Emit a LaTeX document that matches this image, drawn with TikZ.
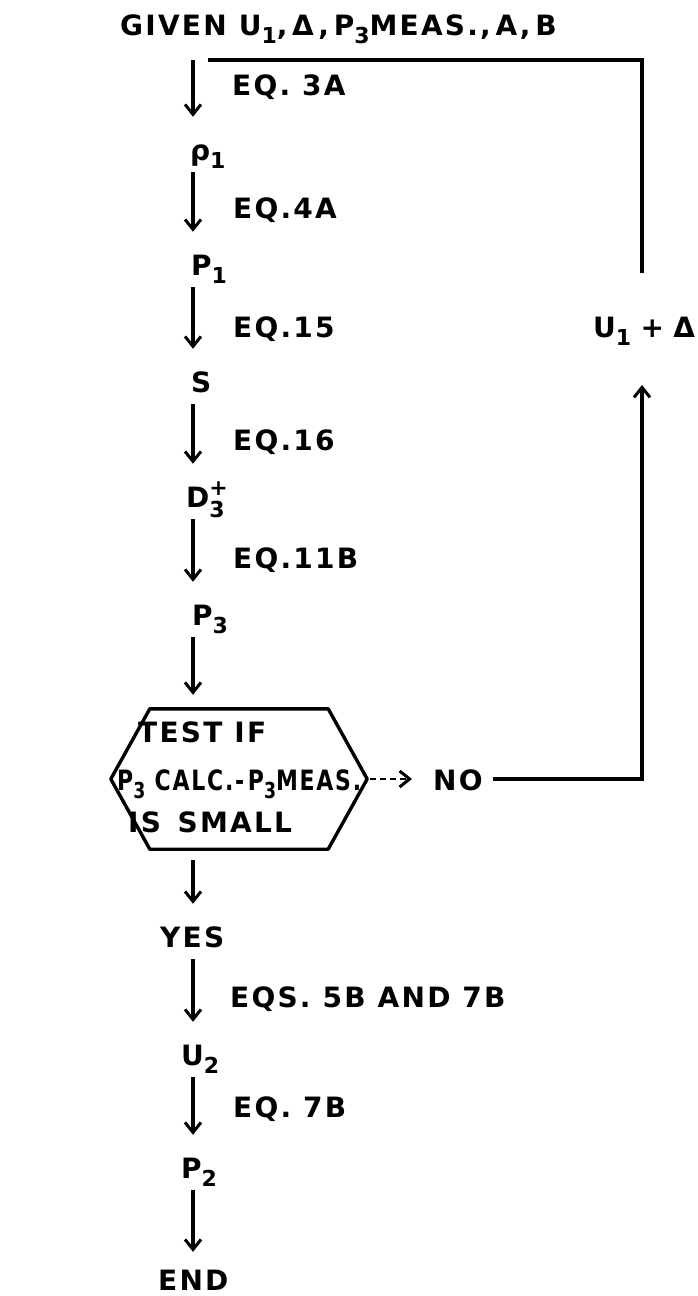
\documentclass[tikz,border=0pt]{standalone}
\usepackage{fontspec}
\setmainfont{DejaVu Sans}[UprightFont={* Bold},LetterSpace=8]
\usetikzlibrary{arrows.meta}
\newcommand\lsub[1]{\raisebox{-8pt}{\fontsize{22}{22}\selectfont #1}}
\newcommand\lsupsub[2]{\rlap{\raisebox{12pt}{\fontsize{22}{22}\selectfont #1}}\raisebox{-10pt}{\fontsize{22}{22}\selectfont #2}}
\begin{document}
\begin{tikzpicture}[x=1pt,y=-1pt,
  lbl/.style={anchor=base west, inner sep=0pt, font=\fontsize{28}{32}\selectfont},
  colnode/.style={lbl, text height=21pt, text depth=12pt},
  line/.style={line width=3.4pt},
  arr/.style={line, -{Straight Barb[length=10pt,width=16pt,line width=3pt]}},
  carr/.style={arr, shorten >=22pt},
]
\useasboundingbox (0,0) rectangle (697,1296);
\coordinate (col) at (193,0);
\coordinate (rx) at (642,0);
\coordinate (top) at (193,60);

\node[lbl] (given) at (120,35) {GIVEN\ U\lsub{1},\,Δ\,,\,P\lsub{3}MEAS.,\,A,\,B};

\node[colnode] (rho) at (190,160) {ρ\lsub{1}};
\node[colnode] (p1) at (191,275) {P\lsub{1}};
\node[colnode] (s) at (191,392) {S};
\node[colnode] (d3) at (186,507) {D\lsupsub{+}{3}};
\node[colnode] (p3) at (192,625) {P\lsub{3}};
\node[colnode] (yes) at (160,947) {YES};
\node[colnode] (u2) at (181,1065) {U\lsub{2}};
\node[colnode] (p2) at (181,1178) {P\lsub{2}};
\node[colnode] (end) at (158,1290) {END};

\node[lbl] (eq3a) at (232,95) {EQ. 3A};
\node[lbl] (eq4a) at (233,218) {EQ.4A};
\node[lbl] (eq15) at (233,337) {EQ.15};
\node[lbl] (eq16) at (233,450) {EQ.16};
\node[lbl] (eq11b) at (233,568) {EQ.11B};
\node[lbl] (eqs) at (230,1007) {EQS. 5B AND 7B};
\node[lbl] (eq7b) at (233,1117) {EQ. 7B};

\node[inner sep=0pt, minimum width=256pt, minimum height=140pt] (hex) at (239,779) {};
\draw[line, line join=round] (hex.west) -- ([xshift=39pt]hex.north west) -- ([xshift=-39pt]hex.north east) -- (hex.east) -- ([xshift=-39pt]hex.south east) -- ([xshift=39pt]hex.south west) -- cycle;
\node[lbl] (t1) at (138,742) {TEST IF};
\node[lbl] (t2) at (117,790) {\scalebox{0.785}[1]{P\lsub{3} CALC.-\,P\lsub{3}MEAS.}};
\node[lbl] (t3) at (128,832) {IS\, SMALL};

\node[lbl] (no) at (433,790) {NO};
\node[lbl] (ud) at (593,337) {U\lsub{1}\,\,+\,\,Δ};

\draw[carr] (top) -- (rho.north -| col);
\draw[carr] (rho.south -| col) -- (p1.north -| col);
\draw[carr] (p1.south -| col) -- (s.north -| col);
\draw[carr] (s.south -| col) -- (d3.north -| col);
\draw[carr] (d3.south -| col) -- (p3.north -| col);
\draw[arr, shorten >=14pt] (p3.south -| col) -- (hex.north -| col);
\draw[carr, shorten <=11pt] (hex.south -| col) -- (yes.north -| col);
\draw[carr] (yes.south -| col) -- (u2.north -| col);
\draw[carr] (u2.south -| col) -- (p2.north -| col);
\draw[carr, shorten >=17pt] (p2.south -| col) -- (end.north -| col);

\draw[arr, line width=2.4pt, dash pattern=on 6pt off 4pt, shorten <=3pt, shorten >=21pt] (hex.east) -- (no.west |- hex.east);
\draw[arr, shorten <=10pt] (no.east |- hex.east) -| ([yshift=-48pt]ud.base -| rx);
\draw[line] ([yshift=64pt]ud.base -| rx) |- ([xshift=15pt]top);
\end{tikzpicture}
\end{document}
